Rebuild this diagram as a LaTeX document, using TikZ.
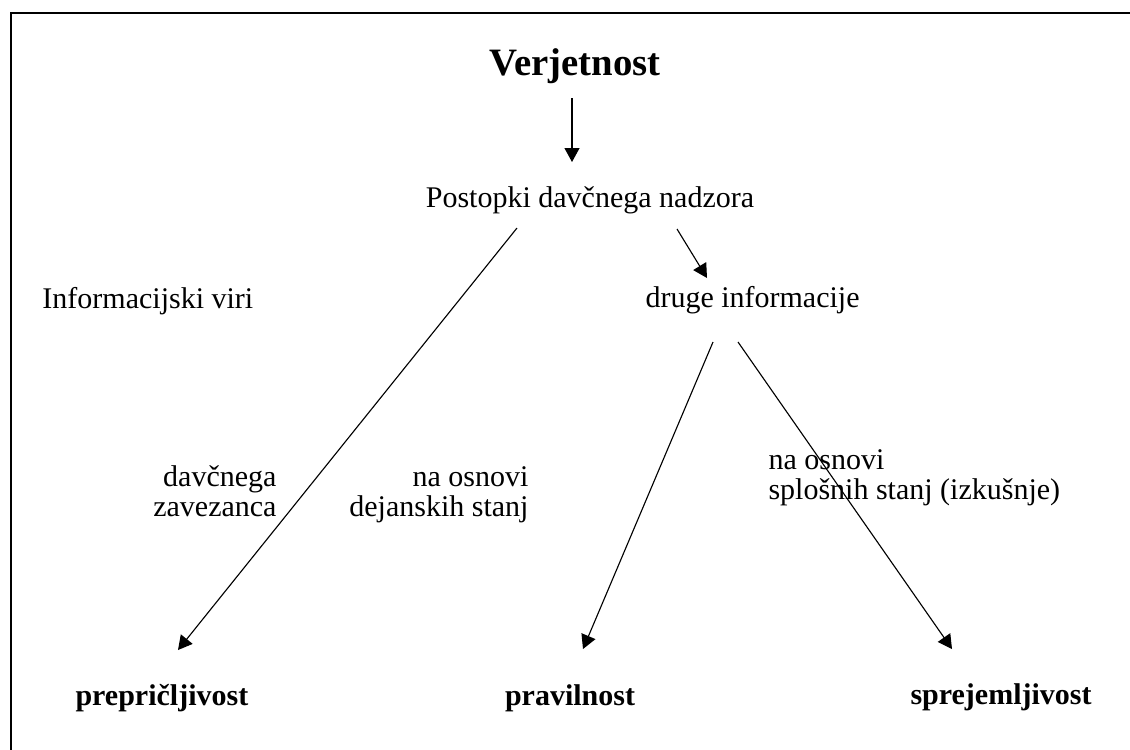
\documentclass[tikz,border=0pt]{standalone}
\usepackage{fontspec}
\setmainfont{Liberation Serif}
\usetikzlibrary{arrows.meta}
\begin{document}
\begin{tikzpicture}[x=0.4pt,y=-0.4pt,
    lbl/.style={font=\fontsize{12}{12}\selectfont,inner sep=0pt},
    res/.style={font=\bfseries\fontsize{12}{12}\selectfont,inner sep=0pt},
    arr/.style={-{Triangle[length=5.6pt,width=6pt]},line width=0.45pt}]
    \useasboundingbox (0,0) rectangle (1130,749);
    % Frame
    \draw[line width=0.8pt] (11,760) -- (11,13) -- (1140,13);
    % Coordinates
    \coordinate (V1) at (572,98);
    \coordinate (V2) at (572,162);
    \coordinate (P1) at (517,228);
    \coordinate (P2) at (677,229);
    \coordinate (D) at (707,278);
    \coordinate (D1) at (713,342);
    \coordinate (D2) at (738,342);
    \coordinate (A) at (178,650);
    \coordinate (B) at (583,649);
    \coordinate (C) at (952,649);
    % Labels
    \node[anchor=base,inner sep=0pt,font=\bfseries\fontsize{15.5}{18}\selectfont] (verj) at (575,75) {Verjetnost};
    \node[lbl,anchor=base] (post) at (590,207) {Postopki davčnega nadzora};
    \node[lbl,anchor=base west] (viri) at (42,308) {Informacijski viri};
    \node[lbl,anchor=base west] (druge) at (645,307) {druge informacije};
    \node[lbl,anchor=base east,align=right] (zav) at (277,516) {davčnega\\zavezanca};
    \node[lbl,anchor=base east,align=right] (dej) at (529,516) {na osnovi\\dejanskih stanj};
    \node[lbl,anchor=base west,align=left] (splo) at (768,499) {na osnovi\\splošnih stanj (izkušnje)};
    \node[res,anchor=base west] (prep) at (75,705) {prepričljivost};
    \node[res,anchor=base] (prav) at (570,705) {pravilnost};
    \node[res,anchor=base west] (sprej) at (910,704) {sprejemljivost};
    % Arrows
    \draw[arr] (V1) -- (V2);
    \draw[arr] (P1) -- (A);
    \draw[arr] (P2) -- (D);
    \draw[arr] (D1) -- (B);
    \draw[arr] (D2) -- (C);
\end{tikzpicture}
\end{document}
